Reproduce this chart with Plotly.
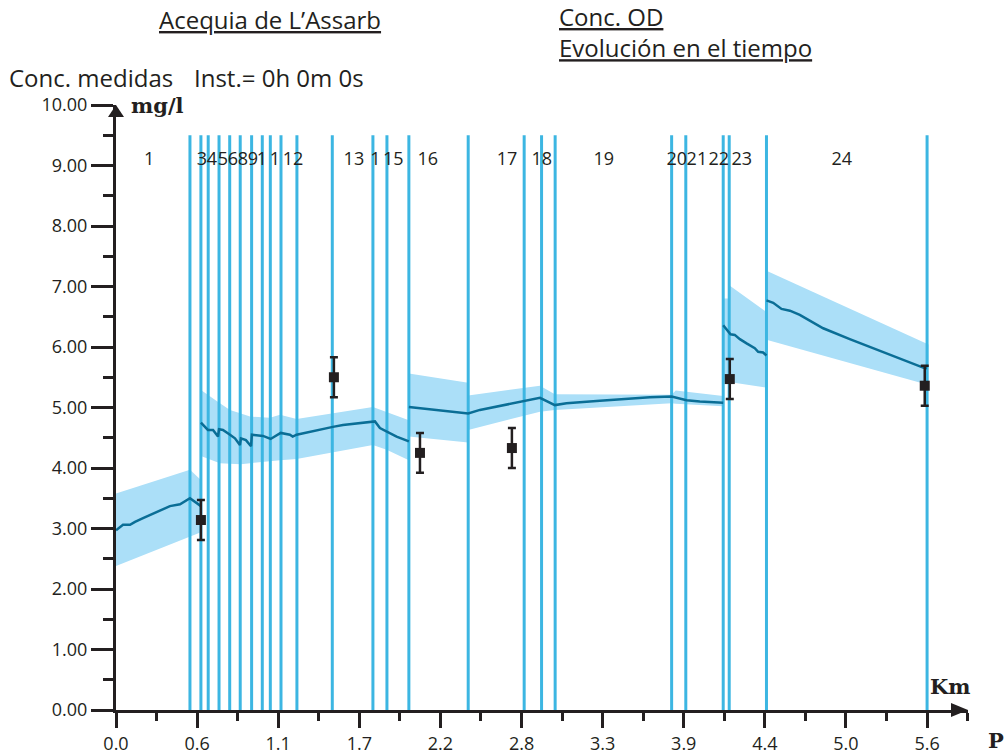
import plotly.graph_objects as go

# ---------------- data ----------------
KM_MAX = 5.55
X_RANGE_MAX = 5.83

x_tick_labels = ["0.0", "0.6", "1.1", "1.7", "2.2", "2.8", "3.3", "3.9", "4.4", "5.0", "5.6"]
y_tick_values = [0, 1, 2, 3, 4, 5, 6, 7, 8, 9, 10]

# segment boundary positions (km)
seg_bounds_km = [0.506, 0.581, 0.631, 0.705, 0.778, 0.850, 0.928, 1.001, 1.056, 1.129,
                 1.238, 1.480, 1.758, 1.854, 2.004, 2.410, 2.793, 2.912, 3.005, 3.802,
                 3.899, 4.155, 4.196, 4.451, 5.550]
SEG_LINE_TOP = 9.5

# segment labels (as visible)
seg_labels = ["1", "3", "4", "5", "6", "8", "9", "10", "11", "12", "13", "14",
              "15", "16", "17", "18", "19", "20", "21", "22", "23", "24"]
seg_label_km = [0.226, 0.588, 0.657, 0.732, 0.800, 0.869, 0.937, 1.033,
                1.122, 1.211, 1.628, 1.810, 1.898, 2.134, 2.675, 2.914, 3.338, 3.838,
                3.975, 4.125, 4.282, 4.966]
SEG_LABEL_Y = 9.09

# simulated concentration (mg/l), one piece per reach group
sim_A_km = [0.000, 0.048, 0.096, 0.130, 0.185, 0.280, 0.369, 0.438, 0.506, 0.581]
sim_A_val = [2.97, 3.06, 3.06, 3.11, 3.17, 3.28, 3.37, 3.40, 3.50, 3.37]

sim_B_km = [0.581, 0.629, 0.664, 0.698, 0.705, 0.732, 0.780, 0.814, 0.848, 0.855, 0.889,
            0.924, 0.930, 1.006, 1.058, 1.127, 1.190, 1.209, 1.236, 1.327, 1.441, 1.484,
            1.553, 1.738, 1.772, 1.806, 1.852, 1.920, 2.004]
sim_B_val = [4.75, 4.63, 4.63, 4.52, 4.64, 4.63, 4.55, 4.49, 4.38, 4.49, 4.46,
             4.36, 4.55, 4.53, 4.48, 4.58, 4.55, 4.52, 4.55, 4.60, 4.66, 4.68,
             4.71, 4.77, 4.77, 4.66, 4.60, 4.52, 4.44]

sim_C_km = [2.004, 2.410, 2.490, 2.627, 2.730, 2.798, 2.901, 3.003, 3.083, 3.311, 3.653,
            3.802, 3.904, 3.995, 4.155]
sim_C_val = [5.01, 4.90, 4.96, 5.03, 5.08, 5.11, 5.16, 5.04, 5.07, 5.11, 5.17,
             5.18, 5.12, 5.10, 5.08]

sim_D_km = [4.155, 4.205, 4.234, 4.269, 4.315, 4.371, 4.394, 4.428, 4.451]
sim_D_val = [6.36, 6.21, 6.20, 6.13, 6.06, 5.98, 5.92, 5.91, 5.86]

sim_E_km = [4.451, 4.497, 4.554, 4.611, 4.679, 4.839, 5.021, 5.204, 5.363, 5.420, 5.523, 5.550]
sim_E_val = [6.77, 6.73, 6.63, 6.60, 6.53, 6.31, 6.13, 5.96, 5.80, 5.76, 5.66, 5.65]

# uncertainty band (lower / upper) per group
band_A_km = [0.000, 0.506, 0.581]
band_A_lo = [2.38, 2.86, 2.94]
band_A_hi = [3.58, 3.97, 3.80]

band_B_km = [0.581, 0.643, 0.711, 0.780, 0.855, 0.917, 1.054, 1.122, 1.236, 1.758, 1.852, 2.004]
band_B_lo = [4.20, 4.14, 4.08, 4.07, 4.06, 4.08, 4.12, 4.13, 4.15, 4.38, 4.30, 4.13]
band_B_hi = [5.29, 5.18, 5.07, 4.96, 4.90, 4.85, 4.83, 4.88, 4.81, 5.01, 4.93, 4.79]

band_C_km = [2.004, 2.410, 2.410, 2.901, 3.003, 3.802, 3.830, 4.155]
band_C_lo = [4.52, 4.42, 4.63, 4.93, 4.96, 5.07, 5.06, 5.02]
band_C_hi = [5.56, 5.41, 5.20, 5.36, 5.22, 5.21, 5.28, 5.19]

band_D_km = [4.155, 4.196, 4.196, 4.451]
band_D_lo = [5.43, 5.42, 5.42, 5.33]
band_D_hi = [6.80, 6.80, 7.02, 6.58]

band_E_km = [4.451, 5.560]
band_E_lo = [6.12, 5.37]
band_E_hi = [7.26, 6.04]

# measured concentrations
meas_km = [0.581, 1.491, 2.080, 2.709, 4.200, 5.534]
meas_val = [3.14, 5.50, 4.25, 4.33, 5.47, 5.36]
meas_err = [0.33, 0.33, 0.33, 0.33, 0.33, 0.33]

# ---------------- style ----------------
W, H = 1005, 754
# plot area in window pixels: left 116, right 968, top 105, bottom 710
ML, MT, MR, MB = 116, 105, W - 968, H - 710
PW, PH = W - ML - MR, H - MT - MB
INK = "#231f20"
SEG_BLUE = "#3cb6e2"
BAND_BLUE = "#abdff8"
LINE_BLUE = "#0a6e96"
FONT = "Open Sans"
SERIF = "DejaVu Serif"
NUM_SIZE = 18

KM_PER_PX = X_RANGE_MAX / PW


def px_x(px):
    return (px - ML) / PW


def px_y(py):
    return (H - MB - py) / PH


fig = go.Figure()

# uncertainty bands
for bk, blo, bhi in [(band_A_km, band_A_lo, band_A_hi), (band_B_km, band_B_lo, band_B_hi),
                     (band_C_km, band_C_lo, band_C_hi), (band_D_km, band_D_lo, band_D_hi),
                     (band_E_km, band_E_lo, band_E_hi)]:
    fig.add_trace(go.Scatter(
        x=list(bk) + list(bk)[::-1], y=list(blo) + list(bhi)[::-1],
        mode="lines", fill="toself", fillcolor=BAND_BLUE, line=dict(width=0),
        hoverinfo="skip", showlegend=False))

# segment boundary lines
vx, vy = [], []
for b in seg_bounds_km:
    vx += [b, b, None]
    vy += [0, SEG_LINE_TOP, None]
fig.add_trace(go.Scatter(x=vx, y=vy, mode="lines", line=dict(color=SEG_BLUE, width=3),
                         hoverinfo="skip", showlegend=False))

# segment labels: a label's trailing digits are hidden where the next label overlaps them
ADV_PX = 0.572 * NUM_SIZE
lab_x, lab_t = [], []
for i, (lab, xk) in enumerate(zip(seg_labels, seg_label_km)):
    c = xk / KM_PER_PX
    left = c - len(lab) * ADV_PX / 2
    shown = lab
    if i + 1 < len(seg_labels):
        nxt = seg_labels[i + 1]
        nleft = seg_label_km[i + 1] / KM_PER_PX - len(nxt) * ADV_PX / 2
        keep = len(lab)
        while keep > 1 and left + keep * ADV_PX - nleft > 2:
            keep -= 1
        shown = lab[:keep]
    lab_x.append(left * KM_PER_PX)
    lab_t.append(shown)
fig.add_trace(go.Scatter(
    x=lab_x, y=[SEG_LABEL_Y] * len(lab_x), mode="text", text=lab_t,
    textfont=dict(family=FONT, size=NUM_SIZE, color=INK), textposition="middle right",
    hoverinfo="skip", showlegend=False))

# simulated line
for sk, sv in [(sim_A_km, sim_A_val), (sim_B_km, sim_B_val), (sim_C_km, sim_C_val),
               (sim_D_km, sim_D_val), (sim_E_km, sim_E_val)]:
    fig.add_trace(go.Scatter(x=sk, y=sv, mode="lines",
                             line=dict(color=LINE_BLUE, width=2.5),
                             showlegend=False))

# measurements
fig.add_trace(go.Scatter(
    x=meas_km, y=meas_val, mode="markers",
    marker=dict(symbol="square", size=10, color=INK),
    error_y=dict(type="data", array=meas_err, visible=True, color=INK, thickness=2.5, width=4),
    showlegend=False))

major_x = [i * KM_MAX / 10 for i in range(len(x_tick_labels))]
minor_x = [(i + 0.5) * KM_MAX / 10 for i in range(len(x_tick_labels))]

fig.update_layout(
    width=W, height=H,
    margin=dict(l=ML, r=MR, t=MT, b=MB, pad=0),
    paper_bgcolor="white", plot_bgcolor="white",
    showlegend=False,
    font=dict(family=FONT, color=INK),
    xaxis=dict(
        range=[0, X_RANGE_MAX], showgrid=False, zeroline=False, automargin=False,
        showline=True, linewidth=3, linecolor=INK,
        tickmode="array", tickvals=major_x, ticktext=x_tick_labels,
        ticks="outside", ticklen=15, tickwidth=3, tickcolor=INK,
        tickfont=dict(family=FONT, size=NUM_SIZE, color=INK),
        minor=dict(tickmode="array", tickvals=minor_x, ticks="outside", ticklen=8,
                   tickwidth=2.5, tickcolor=INK, showgrid=False),
    ),
    yaxis=dict(
        range=[0, 10], showgrid=False, zeroline=False, automargin=False,
        showline=True, linewidth=3, linecolor=INK,
        tickmode="array", tickvals=y_tick_values,
        ticktext=["%.2f" % v for v in y_tick_values],
        ticks="outside", ticklen=22, tickwidth=2.5, tickcolor=INK,
        tickfont=dict(family=FONT, size=NUM_SIZE, color=INK),
        minor=dict(dtick=0.5, tick0=0, ticks="outside", ticklen=10,
                   tickwidth=2.5, tickcolor=INK, showgrid=False),
    ),
    shapes=[
        dict(type="path", xref="paper", yref="paper", xsizemode="pixel", ysizemode="pixel",
             xanchor=1, yanchor=0, path="M -17,-7 L 0,0 L -17,7 Z",
             fillcolor=INK, line=dict(width=0), layer="above"),
        dict(type="path", xref="paper", yref="paper", xsizemode="pixel", ysizemode="pixel",
             xanchor=0, yanchor=1, path="M -8,-12 L 0,0 L 8,-12 Z",
             fillcolor=INK, line=dict(width=0), layer="above"),
    ],
)

ann = [
    ("<u>Acequia de L’Assarb</u>", 157, 19, FONT, 24),
    ("<u>Conc. OD</u><br><u>Evolución en el tiempo</u>", 557, 32, FONT, 24),
    ("Conc. medidas", 7, 77, FONT, 24),
    ("Inst.= 0h 0m 0s", 192, 77, FONT, 24),
    ("<b>mg/l</b>", 129, 106, SERIF, 21),
    ("<b>Km</b>", 928, 686, SERIF, 21),
    ("<b>P</b>", 986, 740, SERIF, 21),
]
for txt, x, y, fam, sz in ann:
    fig.add_annotation(text=txt, xref="paper", yref="paper", x=px_x(x), y=px_y(y),
                       xanchor="left", yanchor="middle", align="left", showarrow=False,
                       font=dict(family=fam, size=sz, color=INK))

fig.write_html(
    "out.html",
    config={"displayModeBar": False},
    post_script="document.body.style.margin='0';"
                "document.documentElement.style.overflow='hidden';"
                "document.body.style.overflow='hidden';",
)
